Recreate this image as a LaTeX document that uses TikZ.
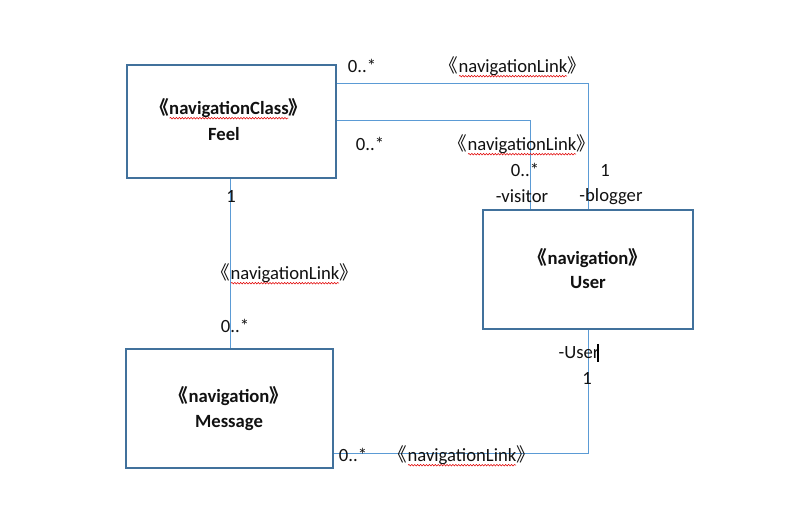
\documentclass[tikz,border=0pt]{standalone}
\usepackage{fontspec}
\setmainfont{Carlito}
\newfontfamily\cjk{Noto Sans CJK SC}
\usetikzlibrary{calc,decorations.pathmorphing}
\definecolor{boxline}{HTML}{41719C}
\definecolor{linkline}{HTML}{5B9BD5}
\definecolor{squig}{HTML}{E00000}
\definecolor{ink}{HTML}{111111}
\newcommand{\lbl}{\fontsize{14}{17}\selectfont}
\newcommand{\stereo}[1]{\hspace*{-0.45em}{\cjk 《}#1{\cjk 》}\hspace*{-0.45em}}
\newcommand{\squiggle}[1]{\draw[wave] ($(#1.base west)+(8.2pt,-2.4pt)$) -- ($(#1.base east)+(-8.2pt,-2.4pt)$);}

\begin{document}
\begin{tikzpicture}[x=0.75pt,y=-0.75pt,
  navbox/.style={draw=boxline,line width=1.5pt,inner sep=0},
  boxtxt/.style={anchor=base,inner sep=0,font=\lbl\bfseries,text=ink},
  link/.style={linkline,line width=0.75pt},
  mult/.style={anchor=base,inner sep=0,font=\lbl,text=ink},
  wave/.style={squig,line width=0.4pt,decorate,decoration={snake,segment length=2.2pt,amplitude=0.6pt}}]
\useasboundingbox (0,0) rectangle (790,523);
% classes
\node[navbox,minimum width=156.75pt,minimum height=84.75pt] (feel) at (231.5,121.5) {};
\node[navbox,minimum width=157.5pt,minimum height=89.25pt] (user) at (588,269.5) {};
\node[navbox,minimum width=155.25pt,minimum height=89.25pt] (msg) at (229.5,408.5) {};
\node[boxtxt] (feelst) at (229,115) {\stereo{navigationClass}};
\node[boxtxt] (feelnm) at (224,141) {Feel};
\node[boxtxt] (userst) at (588,265) {\stereo{navigation}};
\node[boxtxt] (usernm) at (588,289) {User};
\node[boxtxt] (msgst) at (229,403) {\stereo{navigation}};
\node[boxtxt] (msgnm) at (229,428) {Message};
% links
\coordinate (blog) at (588,84);
\coordinate (visit) at (530,121);
\coordinate (post) at (588,454);
\draw[link] (feel.east |- blog) -- (blog) -- (user.north -| blog);
\draw[link] (feel.east |- visit) -- (visit) -- (user.north -| visit);
\draw[link] (feel.south -| 230,0) -- (msg.north -| 230,0);
\draw[link] (user.south -| post) -- (post) -- (msg.east |- post);
% labels
\node[mult] (m1) at (362,73) {0..*};
\node[mult] (s1) at (513,73) {\stereo{navigationLink}};
\node[mult] (m2) at (605,177) {1};
\node[mult] (r1) at (611,202) {-blogger};
\node[mult] (m3) at (370,151) {0..*};
\node[mult] (s2) at (522,151) {\stereo{navigationLink}};
\node[mult] (m4) at (525,177) {0..*};
\node[mult] (r2) at (522,203) {-visitor};
\node[mult] (m5) at (231,203) {1};
\node[mult] (s3) at (285,280) {\stereo{navigationLink}};
\node[mult] (m6) at (235,333) {0..*};
\node[mult] (r3) at (579,359) {-User};
\node[mult] (m7) at (587,385) {1};
\node[mult] (m8) at (353,462) {0..*};
\node[mult] (s4) at (462,462) {\stereo{navigationLink}};
% spell-check marks
\squiggle{feelst}
\squiggle{s1}
\squiggle{s2}
\squiggle{s3}
\squiggle{s4}
\draw[black,line width=1pt] (598,344) -- (598,362);
\end{tikzpicture}
\end{document}
